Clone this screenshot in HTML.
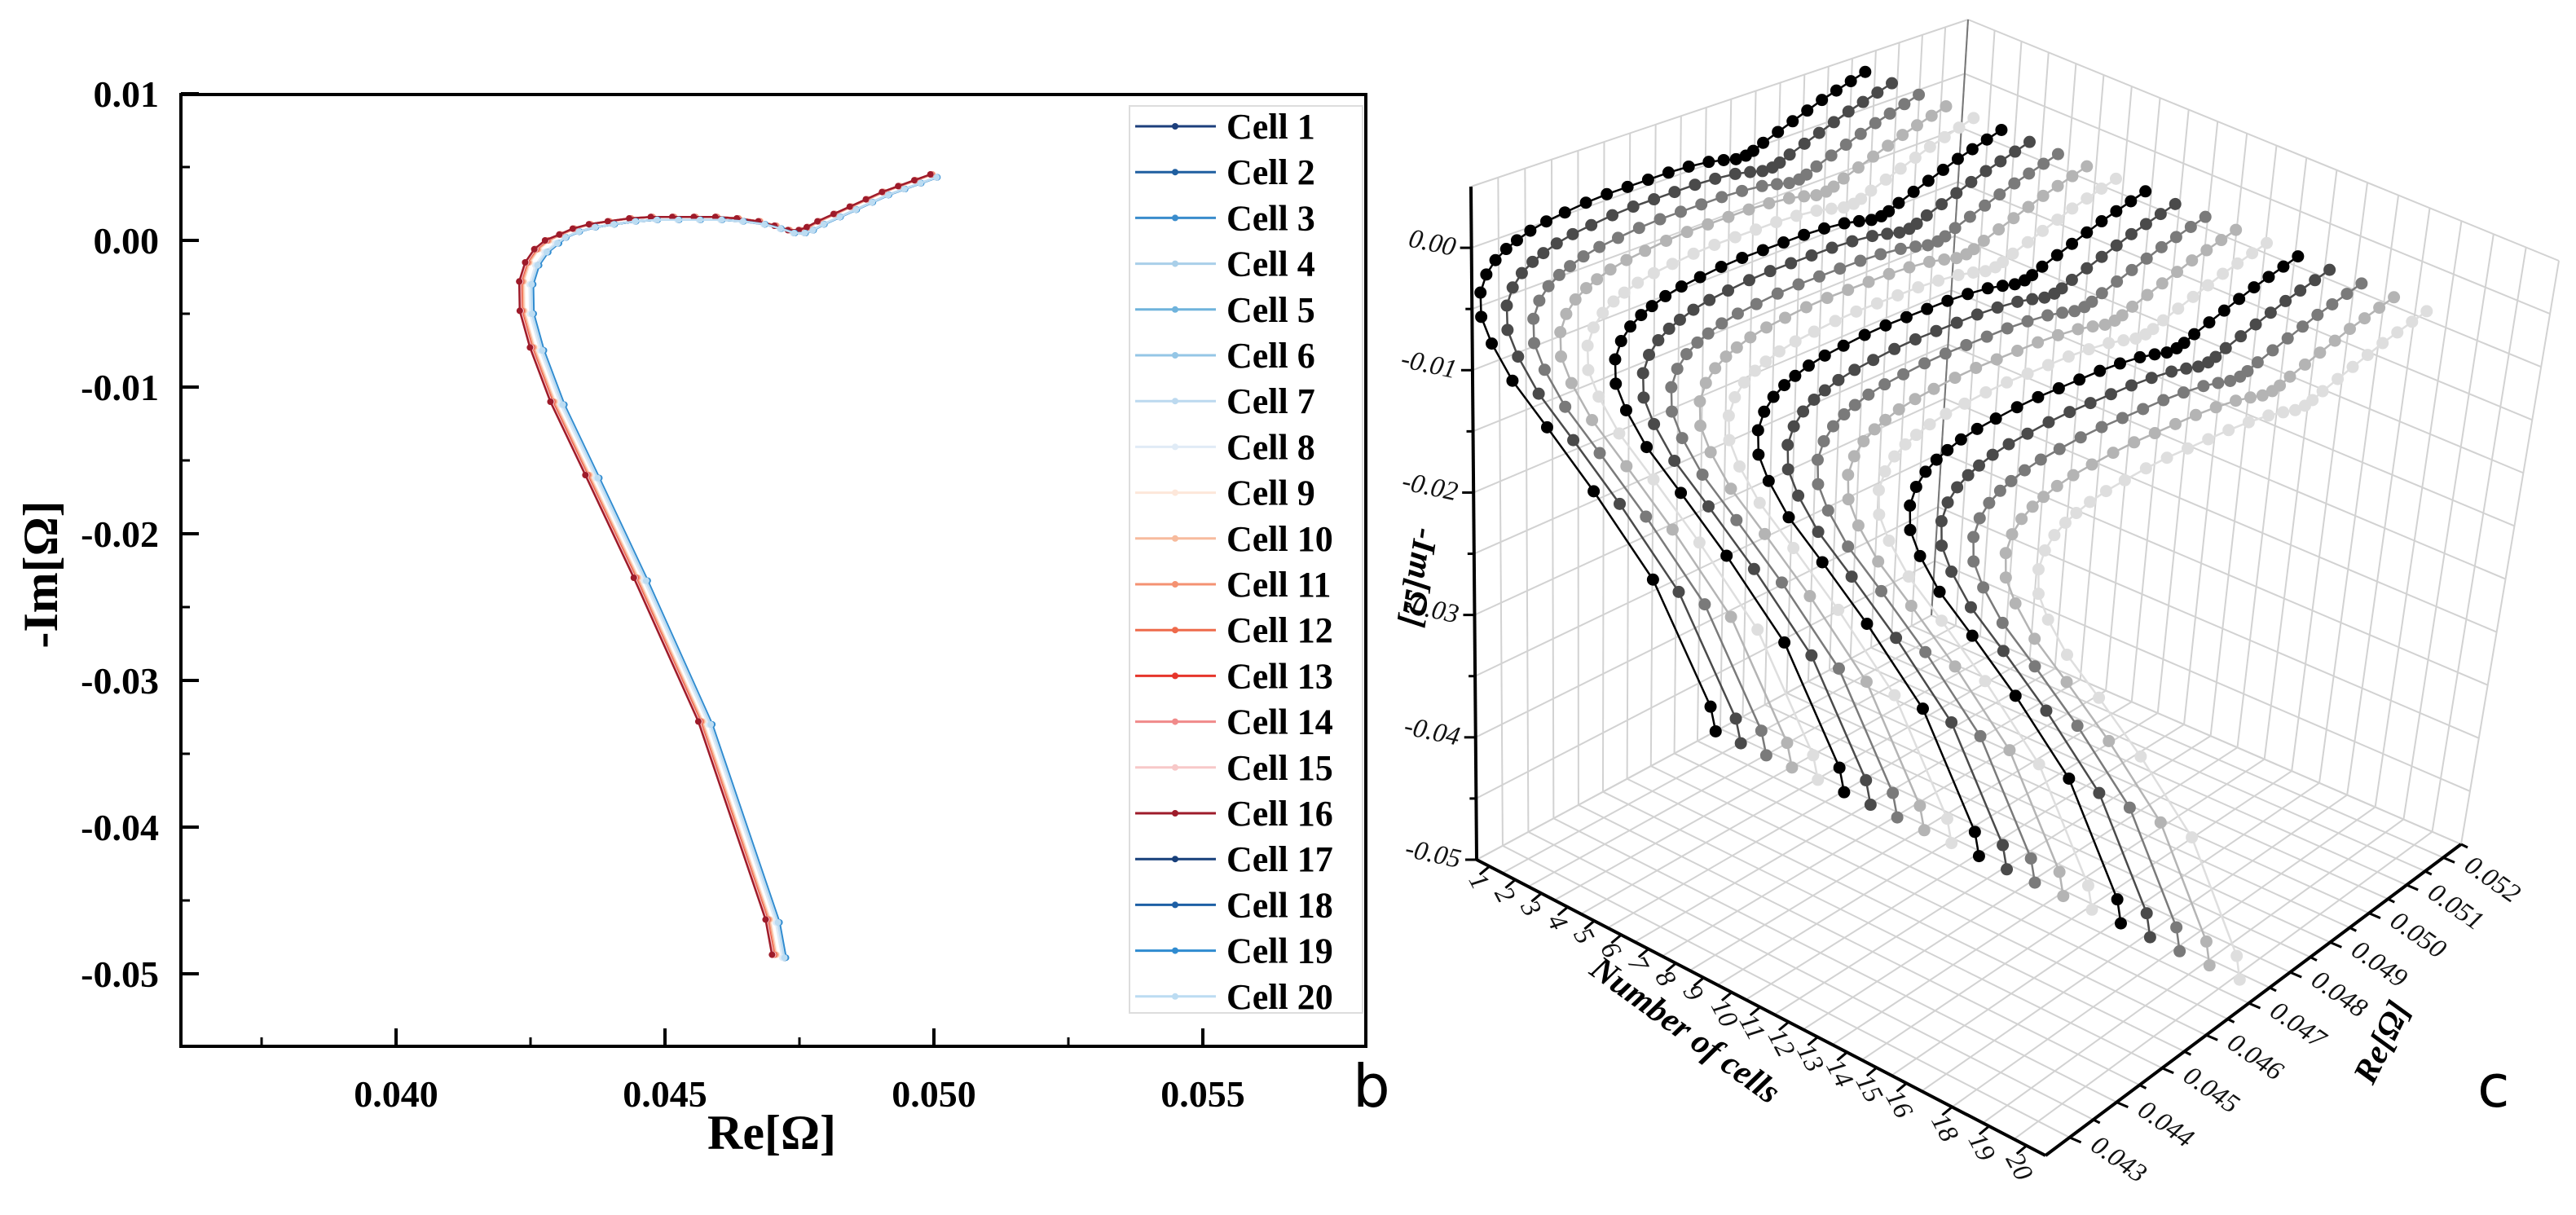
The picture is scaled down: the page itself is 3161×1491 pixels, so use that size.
<!DOCTYPE html>
<html><head><meta charset="utf-8"><style>
html,body{margin:0;padding:0;background:#fff;}
svg{display:block;}
</style></head><body>
<svg id="fig" width="3161" height="1491" viewBox="0 0 3161 1491" xmlns="http://www.w3.org/2000/svg">
<rect x="0" y="0" width="3161" height="1491" fill="#fff"/>
<g id="left"></g>
<g id="right"></g>
<text x="1660" y="1358" font-family="DejaVu Sans, sans-serif" font-size="72">b</text>
<text x="3040" y="1358" font-family="DejaVu Sans, sans-serif" font-size="72">c</text>
</svg>
<script>
// ---- data ----
const cells = [1,2,3,4,5,6,7,8,9,10,11,12,13,14,15,16,17,18,19,20];
const reBase = [0.04712,0.04700,0.04575,0.04455,0.04365,0.04300,0.04262,0.04243,0.04242,0.04253,0.04270,0.04290,0.04310,0.04335,0.04365,0.04400,0.04440,0.04480,0.04520,0.04560,0.04600,0.04640,0.04680,0.04710,0.04735,0.04755,0.04770,0.04790,0.04820,0.04850,0.04880,0.04910,0.04940,0.04970,0.05000];
const imBase = [-0.0489,-0.0465,-0.0330,-0.0232,-0.0162,-0.0112,-0.0075,-0.0050,-0.0030,-0.0017,-0.0008,-0.0002,0.0002,0.0006,0.0009,0.0011,0.0013,0.0014,0.0014,0.0014,0.0014,0.0013,0.0011,0.0008,0.0005,0.0005,0.0007,0.0011,0.0016,0.0021,0.0026,0.0031,0.0035,0.0039,0.0043];
const cellReShift = [0.00010,0.00009,0.00011,0.00008,0.00010,0.00009,0.00007,0.00006,-0.00004,-0.00006,-0.00008,-0.0001,-0.0001,-0.00012,-0.00011,-0.00013,0.00011,0.00012,0.00013,0.00010];
const xTicks = [0.040,0.045,0.050,0.055];
const xTickLabels = ["0.040","0.045","0.050","0.055"];
const yTicks = [0.01,0.00,-0.01,-0.02,-0.03,-0.04,-0.05];
const yTickLabels = ["0.01","0.00","-0.01","-0.02","-0.03","-0.04","-0.05"];
const cellColors = ["#1d3f7c","#1f5fa0","#3a8ccc","#a9cfe9","#6fb3dc","#94c6e6","#bcd9ef","#e0ebf6","#fde7da","#f7bb9d","#f49272","#ee6a4b","#e6352b","#f08a8a","#f7c8c8","#9e1b2a","#173f7a","#1d5fa5","#2f8bd0","#bcdcf2"];
const imTicks3d = [0.00,-0.01,-0.02,-0.03,-0.04,-0.05];
const imTickLabels3d = ["0.00","-0.01","-0.02","-0.03","-0.04","-0.05"];
const cellTickLabels = ["1","2","3","4","5","6","7","8","9","10","11","12","13","14","15","16","18","19","20"];
const cellTickPos = [1,2,3,4,5,6,7,8,9,10,11,12,13,14,15,16,17.5,18.7,19.9];
const reTicks3d = [0.043,0.044,0.045,0.046,0.047,0.048,0.049,0.050,0.051,0.052];
const shades3d = ["#000000","#4a4a4a","#7a7a7a","#b4b4b4","#dedede"];

const NS="http://www.w3.org/2000/svg";
function mk(tag,attrs,parent){const e=document.createElementNS(NS,tag);for(const k in attrs)e.setAttribute(k,attrs[k]);parent.appendChild(e);return e;}

// ---- left chart ----
const L=document.getElementById('left');
const X=re=>486+(re-0.040)*66000;
const Y=im=>295-im*18000;
const fL=222,fR=1676,fT=116,fB=1284;
let fr=mk('rect',{x:fL,y:fT,width:fR-fL,height:fB-fT,fill:'none',stroke:'#000','stroke-width':4},L);


xTicks.forEach((t,i)=>{
  let l=mk('line',{x1:X(t),x2:X(t),y1:fB,y2:fB-22,stroke:'#000','stroke-width':4},L);
  
  let m=mk('line',{x1:X(t-0.0025),x2:X(t-0.0025),y1:fB,y2:fB-11,stroke:'#000','stroke-width':3},L);
  
  let tx=mk('text',{x:X(t),y:fB+74,'text-anchor':'middle','font-family':'Liberation Serif, serif','font-weight':'bold','font-size':46},L);
  tx.textContent=xTickLabels[i];
  
});
yTicks.forEach((t,i)=>{
  let l=mk('line',{x1:fL,x2:fL+22,y1:Y(t),y2:Y(t),stroke:'#000','stroke-width':4},L);
  
  if(t>-0.05){let m=mk('line',{x1:fL,x2:fL+11,y1:Y(t-0.005),y2:Y(t-0.005),stroke:'#000','stroke-width':3},L);
  }
  let tx=mk('text',{x:195,y:Y(t)+16,'text-anchor':'end','font-family':'Liberation Serif, serif','font-weight':'bold','font-size':46},L);
  tx.textContent=yTickLabels[i];
  
});
let xt=mk('text',{x:947,y:1410,'text-anchor':'middle','font-family':'Liberation Serif, serif','font-weight':'bold','font-size':60},L);
xt.textContent='Re[Ω]';
let yt=mk('text',{x:0,y:0,'text-anchor':'middle','font-family':'Liberation Serif, serif','font-weight':'bold','font-size':60,transform:'translate(70,705) rotate(-90)'},L);
yt.textContent='-Im[Ω]';
// series
cells.forEach((c,ci)=>{
  const pts=reBase.map((r,k)=>[X(r+cellReShift[ci]*(k<12?1:0.5)),Y(imBase[k]+(ci>=8&&ci<16?0.0002:0))]);
  let g=mk('g',{},L);
  let p=mk('polyline',{points:pts.map(p=>p.join(',')).join(' '),fill:'none',stroke:cellColors[ci],'stroke-width':2.5},g);
  
  pts.forEach(q=>{let d=mk('circle',{cx:q[0],cy:q[1],r:4,fill:cellColors[ci]},g);
    });
});
// legend
let lg=mk('g',{},L);
let lb=mk('rect',{x:1386,y:130,width:286,height:1113,fill:'#fff',stroke:'#ddd','stroke-width':2},lg);

cells.forEach((c,ci)=>{
  const yy=155+ci*56.2;
  let e=mk('g',{},lg);
  let l=mk('line',{x1:1393,x2:1492,y1:yy,y2:yy,stroke:cellColors[ci],'stroke-width':3},e);
  
  let d=mk('circle',{cx:1442,cy:yy,r:4,fill:cellColors[ci]},e);
  
  let t=mk('text',{x:1505,y:yy+15,'font-family':'Liberation Serif, serif','font-weight':'bold','font-size':44},e);
  t.textContent='Cell '+c;
});

// ---- right 3D chart ----
const R=document.getElementById('right');
function homog(q){const [p0,p1,p2,p3]=q;
  const dx1=p1[0]-p2[0],dx2=p3[0]-p2[0],dx3=p0[0]-p1[0]+p2[0]-p3[0];
  const dy1=p1[1]-p2[1],dy2=p3[1]-p2[1],dy3=p0[1]-p1[1]+p2[1]-p3[1];
  const den=dx1*dy2-dx2*dy1;
  const g=(dx3*dy2-dx2*dy3)/den,h=(dx1*dy3-dx3*dy1)/den;
  const a=p1[0]-p0[0]+g*p1[0],b=p3[0]-p0[0]+h*p3[0],c=p0[0];
  const d=p1[1]-p0[1]+g*p1[1],e=p3[1]-p0[1]+h*p3[1],f=p0[1];
  return (u,v)=>{const w=g*u+h*v+1;return [(a*u+b*v+c)/w,(d*u+e*v+f)/w];};}
const floorH=homog([[1812,1055],[2510,1418],[3020,1036],[2370,755]]);
const topH=homog([[1805,229],[2530,585],[3140,320],[2415,24]]);
const C0=0.5,C1=20.5,RE0=0.0425,RE1=0.0525,IM0=-0.05,IM1=0.005;
function P(cell,re,im){const u=(cell-C0)/(C1-C0),v=(re-RE0)/(RE1-RE0),w=(im-IM0)/(IM1-IM0);
  const F=floorH(u,v),T=topH(u,v);return [F[0]+w*(T[0]-F[0]),F[1]+w*(T[1]-F[1])];}
function line3(a,b,attrs,name,parent){let l=mk('line',Object.assign({x1:a[0],y1:a[1],x2:b[0],y2:b[1]},attrs),parent);
  return l;}
const grid={stroke:'#d2d2d2','stroke-width':2};
let gg=mk('g',{},R);
for(let k=0;k<=20;k++){const r=RE0+k*0.0005;
  line3(P(C0,r,IM0),P(C1,r,IM0),grid,'floor-grid-re',gg);
  line3(P(C0,r,IM0),P(C0,r,IM1),grid,'wall-grid-re',gg);}
for(let c=0;c<=20;c++){const cc=C0+c;
  line3(P(cc,RE0,IM0),P(cc,RE1,IM0),grid,'floor-grid-cell',gg);
  line3(P(cc,RE1,IM0),P(cc,RE1,IM1),grid,'wall-grid-cell',gg);}
for(let k=0;k<=11;k++){const im=IM0+k*0.005;
  line3(P(C0,RE0,im),P(C0,RE1,im),grid,'wall-grid-im',gg);
  line3(P(C0,RE1,im),P(C1,RE1,im),grid,'wall-grid-im',gg);}
line3(P(C0,RE1,IM0),P(C0,RE1,IM1),{stroke:'#777','stroke-width':2},'back-edge',gg);
const ax={stroke:'#000','stroke-width':4};
line3(P(C0,RE0,IM0),P(C0,RE0,IM1),ax,'im-axis-line',R);
line3(P(C0,RE0,IM0),P(C1,RE0,IM0),ax,'cells-axis-line',R);
line3(P(C1,RE0,IM0),P(C1,RE1,IM0),ax,'re-axis-line',R);
const serif={'font-family':'Liberation Serif, serif','font-style':'italic','font-size':33,fill:'#111'};
imTicks3d.forEach((t,i)=>{const p=P(C0,RE0,t);
  line3(p,[p[0]-14,p[1]],{stroke:'#000','stroke-width':3},'im-tick',R);
  if(t>-0.05){const q=P(C0,RE0,t-0.005);line3(q,[q[0]-8,q[1]],{stroke:'#000','stroke-width':3},'im-minor-tick',R);}
  let tx=mk('text',Object.assign({x:0,y:0,'text-anchor':'end',transform:`translate(${p[0]-22},${p[1]+10}) rotate(12)`},serif),R);
  tx.textContent=imTickLabels3d[i];});
cellTickPos.forEach((c,i)=>{const p=P(c,RE0,IM0);
  line3(p,[p[0]-12,p[1]+10],{stroke:'#000','stroke-width':3},'cells-tick',R);
  let tx=mk('text',Object.assign({x:0,y:0,transform:`translate(${p[0]-26},${p[1]+16}) rotate(62)`},serif),R);
  tx.textContent=cellTickLabels[i];});
reTicks3d.forEach((r,i)=>{const p=P(C1,r,IM0);
  line3(p,[p[0]+14,p[1]+6],{stroke:'#000','stroke-width':3},'re-tick',R);
  const q=P(C1,r+0.0005,IM0);line3(q,[q[0]+8,q[1]+4],{stroke:'#000','stroke-width':3},'re-minor-tick',R);
  let tx=mk('text',Object.assign({x:0,y:0,transform:`translate(${p[0]+24},${p[1]+14}) rotate(35)`},serif),R);
  tx.textContent=r.toFixed(3);});
const bold={'font-family':'Liberation Serif, serif','font-weight':'bold','font-style':'italic','font-size':42,'text-anchor':'middle'};
let t1=mk('text',Object.assign({x:0,y:0,transform:'translate(1728,707) rotate(98)'},bold),R);t1.textContent='-Im[Ω]';

let t2=mk('text',Object.assign({x:0,y:0,transform:'translate(2060,1275) rotate(36)'},bold),R);t2.textContent='Number of cells';

let t3=mk('text',Object.assign({x:0,y:0,transform:'translate(2935,1285) rotate(-64)'},bold),R);t3.textContent='Re[Ω]';

cells.forEach((c,ci)=>{const col=shades3d[ci%5];
  const pts=reBase.map((r,k)=>P(c,r,imBase[k]));
  let g=mk('g',{},R);
  let p=mk('polyline',{points:pts.map(p=>p.join(',')).join(' '),fill:'none',stroke:col,'stroke-width':2.5},g);
  
  pts.forEach(q=>{let d=mk('circle',{cx:q[0],cy:q[1],r:7.5,fill:col},g);
    });
});
</script>
</body></html>
